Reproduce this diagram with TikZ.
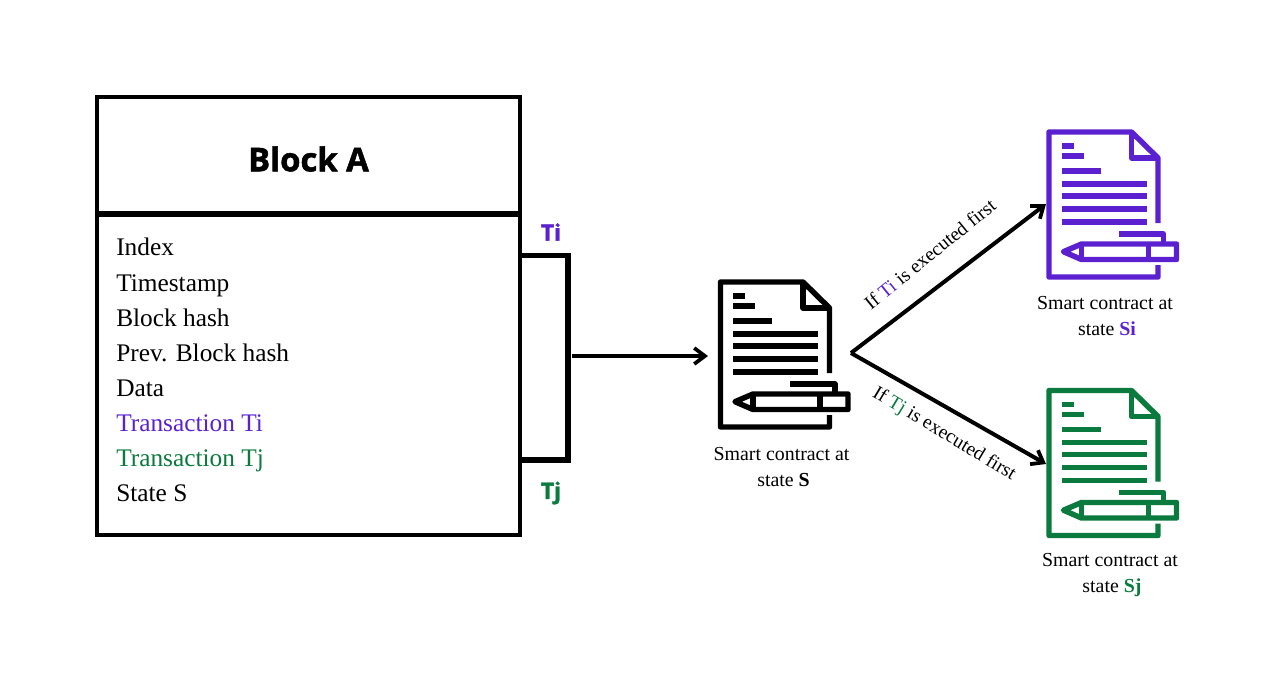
\documentclass[tikz,border=0pt]{standalone}
\usepackage{fontspec}
\setmainfont{Liberation Serif}
\newfontfamily\headfont[BoldFont={Open Sans Bold},BoldFeatures={FakeBold=1.6}]{Open Sans}
\usetikzlibrary{arrows.meta}
\definecolor{tipurple}{HTML}{5B21D0}
\definecolor{tjgreen}{HTML}{0B7A3F}
\tikzset{
  x=0.75pt,y=-0.75pt,
  outline/.style={line width=2.8pt,line join=miter},
  barb/.style={-{Straight Barb[length=8pt,width=12pt,line width=2.8pt]}},
  conn/.style={line width=3pt,barb},
  rowtext/.style={anchor=base west,inner sep=0pt,font=\fontsize{19}{22}\selectfont},
  captext/.style={align=center,inner sep=0pt,font=\fontsize{14.9}{20}\selectfont},
  edgetext/.style={inner sep=0pt,font=\fontsize{14.6}{16}\selectfont},
  headtext/.style={inner sep=0pt,font=\fontsize{17}{20}\headfont\bfseries},
  rule/.style={line width=3.9pt,line cap=butt},
  iconline/.style={line width=4.1pt,line join=round},
}
\newcommand{\contracticon}[3]{%
  \begin{scope}[shift={(#1,#2)},draw=#3,fill=#3]
    \draw[iconline] (111.5,93) -- (111.5,28) -- (85,2) -- (2.5,2) -- (2.5,147) -- (111.5,147) -- (111.5,135);
    \draw[iconline] (85,2) -- (85,28) -- (111.5,28);
    \foreach \ya/\xb in {16/27,26/37,41/54,54/100,66/100,79/100,92/100}
      \draw[rule] (15,\ya) -- (\xb,\ya);
    \draw[iconline] (72,104) -- (117,104) -- (117,114);
    \draw[iconline] (35,114) -- (130,114) -- (130,129.5) -- (35,129.5) -- (17,121.7) -- cycle;
    \draw[iconline] (35,114) -- (35,129.5) (102,114) -- (102,129.5);
  \end{scope}}
\begin{document}
\begin{tikzpicture}
\useasboundingbox (0,0) rectangle (1274,676);
\fill[white] (0,0) rectangle (1274,676);
% block
\node[draw,outline,outer sep=0pt,minimum width=317.25pt,minimum height=328.5pt,inner sep=0pt,anchor=north west] (blockbox) at (97,97) {};
\coordinate (divL) at (95,214);
\coordinate (divR) at (522,214);
\draw[line width=4.6pt] (divL) -- (divR);
\node[headtext,font=\fontsize{24.6}{28}\headfont\bfseries] (blocktitle) at (308.5,159) {Block A};
\node[rowtext] (r1) at (116,255.7) {Index};
\node[rowtext] (r2) at (116,291.7) {Timestamp};
\node[rowtext] (r3) at (116,326.7) {Block hash};
\node[rowtext] (r4) at (116,361.7) {Prev. Block hash};
\node[rowtext] (r5) at (116,396.7) {Data};
\node[rowtext,text=tipurple] (r6) at (116,431.7) {Transaction Ti};
\node[rowtext,text=tjgreen] (r7) at (116,466.7) {Transaction Tj};
\node[rowtext] (r8) at (116,501.7) {State S};
% bracket
\coordinate (brT) at (522,255.5);
\coordinate (brB) at (522,460);
\coordinate (brM) at (572,356);
\draw[line width=4.3pt,line join=miter] (brT) -- (568,255.5) -- (568,460) -- (brB);
\node[headtext,text=tipurple] (ti) at (551,232) {Ti};
\node[headtext,text=tjgreen] (tj) at (551,493) {Tj};
% icons
\contracticon{718}{280}{black}
\contracticon{1046.5}{130}{tipurple}
\contracticon{1046.5}{388.5}{tjgreen}
\coordinate (docS) at (708,356);
\coordinate (fork) at (851,353);
\coordinate (docSi) at (1046,204);
\coordinate (docSj) at (1046,464);
\draw[conn] (brM) -- (docS);
\draw[conn] (fork) -- (docSi);
\draw[conn] (fork) -- (docSj);
% captions
\node[captext] (capS) at (781.5,467) {Smart contract at\\\hspace{3pt}state \textbf{S}};
\node[captext] (capSi) at (1105,316) {Smart contract at\\\hspace{3pt}state \textbf{\textcolor{tipurple}{Si}}};
\node[captext] (capSj) at (1110,575) {Smart contract at\\\hspace{3pt}state \textbf{\textcolor{tjgreen}{Sj}}};
\node[edgetext,rotate=39] (lblTi) at (930,254) {If \textcolor{tipurple}{Ti} is executed first};
\node[edgetext,rotate=-31] (lblTj) at (944,434) {If \textcolor{tjgreen}{Tj} is executed first};
\end{tikzpicture}
\end{document}
